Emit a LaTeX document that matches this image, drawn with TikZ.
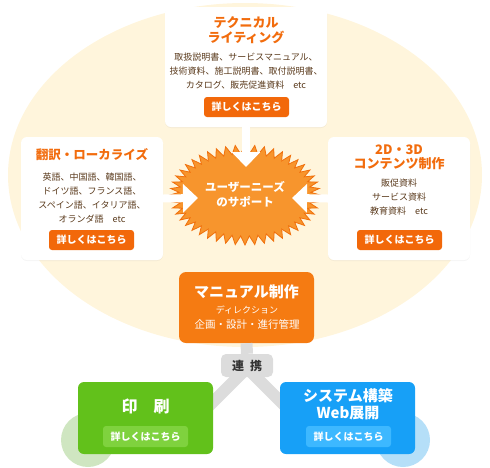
\documentclass[tikz,border=0pt]{standalone}
\usepackage{fontspec}
\setmainfont{Noto Sans CJK JP}
\usetikzlibrary{arrows.meta,shadows}
\definecolor{bgcream}{HTML}{FFF5DC}
\definecolor{ttlorange}{HTML}{F26C0D}
\definecolor{btnorange}{HTML}{F2680A}
\definecolor{bodybrown}{HTML}{5A3A1C}
\definecolor{burstfill}{HTML}{F7952D}
\definecolor{burstline}{HTML}{F0700C}
\definecolor{manorange}{HTML}{F57B12}
\definecolor{linkgray}{HTML}{DCDCDC}
\definecolor{linktext}{HTML}{333333}
\definecolor{prgreen}{HTML}{62C11B}
\definecolor{prgreenbtn}{HTML}{7FD23E}
\definecolor{prgreenlt}{HTML}{CFE6C1}
\definecolor{sysblue}{HTML}{17A0F7}
\definecolor{sysbluebtn}{HTML}{3DB8FF}
\definecolor{sysbluelt}{HTML}{B5DFF8}
\newcommand\myfs[2]{\fontsize{#1}{#2}\selectfont}
\begin{document}
\begin{tikzpicture}[x=1pt,y=-1pt,
  wbox/.style={fill=white,rounded corners=6pt,inner sep=0pt,
    drop shadow={opacity=0.08,shadow xshift=0pt,shadow yshift=-1pt}},
  ttl/.style={text=ttlorange,font=\bfseries\myfs{13}{15},align=center,inner sep=0pt},
  bodytxt/.style={text=bodybrown,font=\myfs{9}{14},align=center,inner sep=0pt},
  obtn/.style={fill=btnorange,text=white,font=\bfseries\myfs{10}{12},rounded corners=3pt,
    minimum width=85pt,minimum height=20pt,inner sep=0pt},
  wtxt/.style={text=white,align=center,inner sep=0pt},
  arw/.style={draw=white,line width=8pt,-{Triangle[width=28pt,length=15pt]}},
  glink/.style={draw=linkgray,line width=12pt}
]
\useasboundingbox (0,0) rectangle (490,467);
% background
\fill[bgcream] (245,175) ellipse [x radius=237pt, y radius=172pt];
\fill[prgreenlt] (88,440) circle[radius=27pt];
\fill[sysbluelt] (403,440) circle[radius=27pt];

% link lines
\coordinate (hub) at (247,368);
\coordinate (hubL) at (200,415);
\coordinate (hubR) at (294,415);
\draw[glink] (hub) -- (hubL);
\draw[glink] (hub) -- (hubR);

% white boxes
\node[wbox,minimum width=162pt,minimum height=120pt] (tech) at (246,67) {};
\node[wbox,minimum width=142pt,minimum height=123pt] (trans) at (92,198.5) {};
\node[wbox,minimum width=142pt,minimum height=123pt] (cont) at (399,198.5) {};

% top box text
\node[ttl] (techT) at (246,30.5) {テクニカル\\ライティング};
\node[bodytxt] (techB) at (246,71) {取扱説明書、サービスマニュアル、\\技術資料、施工説明書、取付説明書、\\カタログ、販売促進資料　etc};
\node[obtn] (techBtn) at (246.5,107) {詳しくはこちら};

% left box text
\node[ttl,font=\bfseries\myfs{12.5}{15}] (transT) at (92,155) {翻訳・ローカライズ};
\node[bodytxt] (transB) at (92,198) {英語、中国語、韓国語、\\ドイツ語、フランス語、\\スペイン語、イタリア語、\\オランダ語　etc};
\node[obtn] (transBtn) at (91.5,240) {詳しくはこちら};

% right box text
\node[ttl,font=\bfseries\myfs{13}{14}] (contT) at (399,157) {2D・3D\\コンテンツ制作};
\node[bodytxt] (contB) at (399,197) {販促資料\\サービス資料\\教育資料　etc};
\node[obtn] (contBtn) at (399.5,240) {詳しくはこちら};

% starburst
\filldraw[fill=burstfill,draw=burstline,line width=0.8pt]
  plot[domain=0:96,samples=97,variable=\i]
  ({245+(70.5+4.5*(1-2*mod(round(\i),2)))*cos(3.75*\i)},{195+(45.5+4.5*(1-2*mod(round(\i),2)))*sin(3.75*\i)}) -- cycle;
\node[wtxt,font=\bfseries\myfs{11.5}{15}] (needs) at (245,194.5) {ユーザーニーズ\\のサポート};

% arrows
\coordinate (tipT) at (246,167);
\coordinate (tipL) at (198,198);
\coordinate (tipR) at (292,198);
\draw[arw] (tech.south) -- (tipT);
\draw[arw] (trans.east) -- (tipL);
\draw[arw] (cont.west) -- (tipR);

% manual box
\node[fill=manorange,rounded corners=7pt,minimum width=135pt,minimum height=71pt,inner sep=0pt] (manual) at (246.5,307.5) {};
\node[wtxt,font=\bfseries\myfs{15}{17}] (manT) at (246.5,292) {マニュアル制作};
\node[wtxt,font=\myfs{9}{11}] (manS1) at (247,310) {ディレクション};
\node[wtxt,font=\myfs{10.5}{12}] (manS2) at (247,324) {企画・設計・進行管理};

% link box
\node[fill=linkgray,rounded corners=5pt,minimum width=52pt,minimum height=23pt,inner sep=0pt] (renkei) at (247,365.5) {};
\draw[glink] (manual.south) -- (renkei.north);
\node[text=linktext,font=\bfseries\myfs{12}{14},inner sep=0pt] (renkeiT) at (247,365.5) {連\hspace{6pt}携};

% print box
\node[fill=prgreen,rounded corners=6pt,minimum width=135pt,minimum height=72pt,inner sep=0pt] (print) at (145.5,418) {};
\node[wtxt,font=\bfseries\myfs{16}{18}] (printT) at (145.5,406) {印　刷};
\node[fill=prgreenbtn,text=white,font=\bfseries\myfs{10}{12},rounded corners=3pt,minimum width=85pt,minimum height=21pt,inner sep=0pt] (printBtn) at (145.5,436.5) {詳しくはこちら};

% system box
\node[fill=sysblue,rounded corners=6pt,minimum width=135pt,minimum height=72pt,inner sep=0pt] (sys) at (347.5,418) {};
\node[wtxt,font=\bfseries\myfs{15}{17}] (sysT) at (348,404.5) {システム構築\\Web展開};
\node[fill=sysbluebtn,text=white,font=\bfseries\myfs{10}{12},rounded corners=3pt,minimum width=85pt,minimum height=21pt,inner sep=0pt] (sysBtn) at (348.5,436.5) {詳しくはこちら};
\end{tikzpicture}
\end{document}
